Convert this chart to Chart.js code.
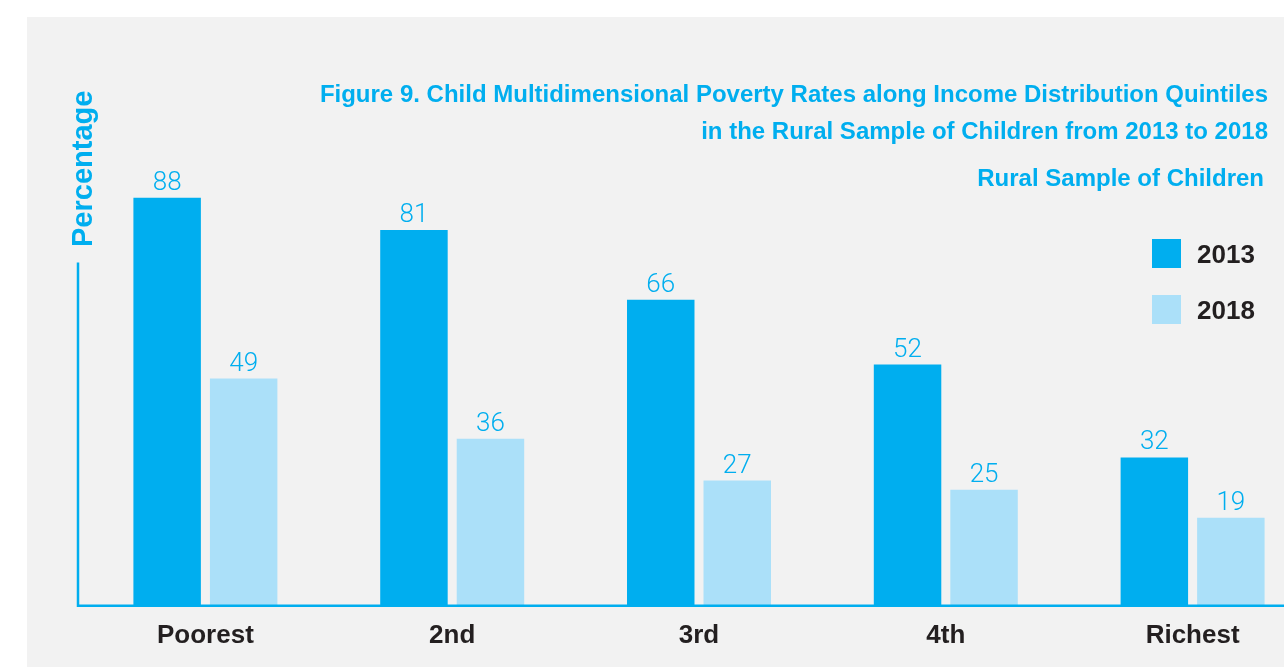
<!DOCTYPE html>
<html>
<head>
<meta charset="utf-8">
<script src="https://cdn.jsdelivr.net/npm/chart.js@4.4.1/dist/chart.umd.min.js"></script>
<style>
  html, body { margin: 0; padding: 0; background: #fff; overflow: hidden; }
  #page { position: relative; width: 1284px; height: 667px; overflow: hidden; }
  #panel { position: absolute; left: 27px; top: 17px; right: 0; bottom: 0; background: #f2f2f2; }
  #wrap { position: absolute; left: 0; top: 0; width: 1320px; height: 667px; }
</style>
</head>
<body>
<div id="page">
  <div id="panel"></div>
  <div id="wrap"><canvas id="povertyChart" width="1320" height="667"></canvas></div>
</div>
<script>
const categories = ["Poorest", "2nd", "3rd", "4th", "Richest"];
const rates2013 = [88, 81, 66, 52, 32];
const rates2018 = [49, 36, 27, 25, 19];
const seriesNames = ["2013", "2018"];

const titleLines = [
  "Figure 9. Child Multidimensional Poverty Rates along Income Distribution Quintiles",
  "in the Rural Sample of Children from 2013 to 2018",
];
const subtitle = "Rural Sample of Children";
const axisTitle = "Percentage";

const BLUE = "#00aeef";
const LIGHT_BLUE = "#abe0f9";
const DARK = "#231f20";
const BOLD = "bold 24px 'Liberation Sans', Arial, sans-serif";

// value labels above each bar
const valueLabels = {
  id: "valueLabels",
  afterDatasetsDraw(chart) {
    const ctx = chart.ctx;
    ctx.save();
    ctx.font = "300 26px Roboto, sans-serif";
    ctx.fillStyle = BLUE;
    ctx.textAlign = "center";
    ctx.textBaseline = "alphabetic";
    chart.data.datasets.forEach((ds, i) => {
      chart.getDatasetMeta(i).data.forEach((bar, j) => {
        ctx.fillText(String(ds.data[j]), bar.x, bar.y - 8);
      });
    });
    ctx.restore();
  },
};

// axis lines, drawn over the bar bases
const axisLines = {
  id: "axisLines",
  afterDatasetsDraw(chart) {
    const { ctx, chartArea, scales } = chart;
    const top = scales.y.getPixelForValue(74);
    const x0 = chartArea.left - 4;
    const y0 = chartArea.bottom;
    ctx.save();
    ctx.strokeStyle = BLUE;
    ctx.lineWidth = 2.5;
    ctx.beginPath();
    ctx.moveTo(x0, top);
    ctx.lineTo(x0, y0);
    ctx.lineTo(chart.width, y0);
    ctx.stroke();
    ctx.restore();
  },
};

// title block, legend and rotated axis title
const annotations = {
  id: "annotations",
  afterDraw(chart) {
    const ctx = chart.ctx;
    ctx.save();
    ctx.fillStyle = BLUE;
    ctx.font = BOLD;
    ctx.textAlign = "right";
    ctx.textBaseline = "alphabetic";
    ctx.fillText(titleLines[0], 1268, 102);
    ctx.fillText(titleLines[1], 1268, 139);
    ctx.fillText(subtitle, 1264, 186);

    // legend
    const colors = chart.data.datasets.map((d) => d.backgroundColor);
    ctx.textAlign = "left";
    ctx.font = "bold 26px 'Liberation Sans', Arial, sans-serif";
    seriesNames.forEach((name, i) => {
      const y = 239 + i * 56;
      ctx.fillStyle = colors[i];
      ctx.fillRect(1152, y, 29, 29);
      ctx.fillStyle = DARK;
      ctx.fillText(name, 1197, y + 24);
    });

    // y axis title
    ctx.translate(92, 247);
    ctx.rotate(-Math.PI / 2);
    ctx.fillStyle = BLUE;
    ctx.font = "bold 29px 'Liberation Sans', Arial, sans-serif";
    ctx.fillText(axisTitle, 0, 0);
    ctx.restore();
  },
};

new Chart(document.getElementById("povertyChart"), {
  type: "bar",
  data: {
    labels: categories,
    datasets: [
      {
        label: seriesNames[0],
        data: rates2013,
        backgroundColor: BLUE,
        categoryPercentage: 0.62,
        barPercentage: 0.882,
      },
      {
        label: seriesNames[1],
        data: rates2018,
        backgroundColor: LIGHT_BLUE,
        categoryPercentage: 0.62,
        barPercentage: 0.882,
      },
    ],
  },
  options: {
    responsive: false,
    animation: false,
    devicePixelRatio: 1,
    layout: { padding: { left: 82, right: 4, top: 142, bottom: 2 } },
    plugins: {
      legend: { display: false },
      tooltip: { enabled: false },
    },
    scales: {
      x: {
        grid: { display: false, drawTicks: false },
        border: { display: false },
        ticks: {
          color: DARK,
          padding: 14,
          font: { family: "'Liberation Sans', Arial, sans-serif", weight: "bold", size: 26 },
        },
      },
      y: { display: false, min: 0, max: 100 },
    },
  },
  plugins: [valueLabels, axisLines, annotations],
});
</script>
</body>
</html>
